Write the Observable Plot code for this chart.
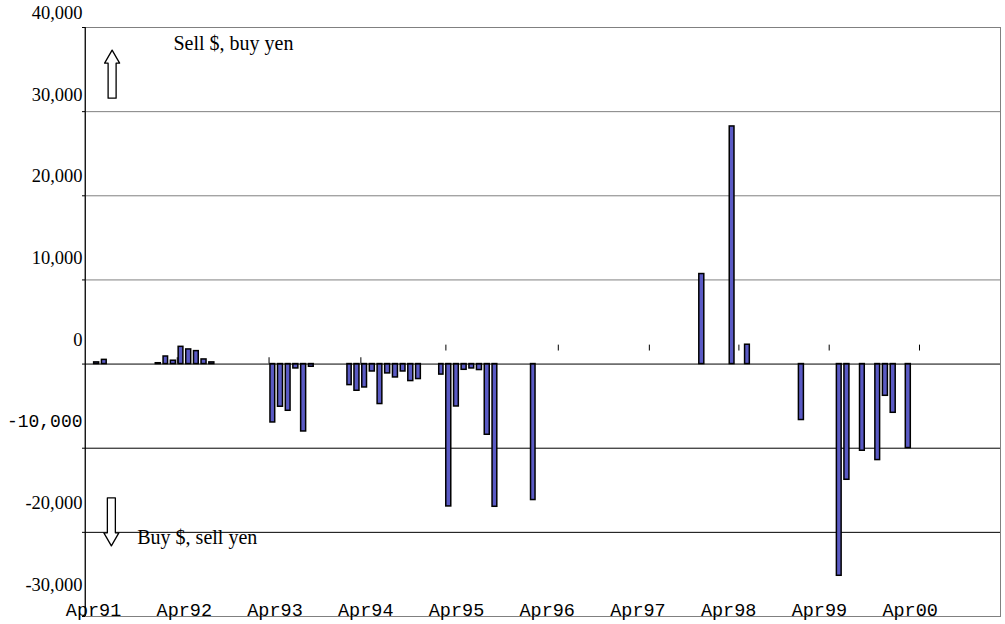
<!DOCTYPE html>
<html><head><meta charset="utf-8">
<script src="https://cdn.jsdelivr.net/npm/d3@7"></script>
<script src="https://cdn.jsdelivr.net/npm/@observablehq/plot@0.6"></script>
<style>
body{margin:0;background:#fff;}
#chart{width:1005px;height:624px;}
svg{display:block;}
</style></head><body><div id="chart"></div>
<script>
// Monthly intervention, 100 million yen (+ = sell $, buy yen; - = buy $, sell yen)
const months = [
  "1991-05","1991-06",
  "1992-01","1992-02","1992-03","1992-04","1992-05","1992-06","1992-07","1992-08",
  "1993-04","1993-05","1993-06","1993-07","1993-08","1993-09",
  "1994-02","1994-03","1994-04","1994-05","1994-06","1994-07","1994-08","1994-09","1994-10","1994-11",
  "1995-02","1995-03","1995-04","1995-05","1995-06","1995-07","1995-08","1995-09",
  "1996-02",
  "1997-12","1998-04","1998-06",
  "1999-01","1999-06","1999-07","1999-09","1999-11","1999-12","2000-01","2000-03"
];
const values = [
  200, 500,
  100, 900, 400, 2050, 1740, 1540, 550, 200,
  -6940, -5070, -5550, -520, -8010, -320,
  -2500, -3170, -2780, -880, -4750, -1110, -1590, -880, -2020, -1780,
  -1250, -16920, -5040, -680, -520, -710, -8400, -16960,
  -16160,
  10700, 28240, 2300,
  -6650, -25160, -13750, -10300, -11410, -3770, -5790, -9980
];
const yTicks = [40000, 30000, 20000, 10000, 0, -10000, -20000, -30000];
const yTickLabels = ["40,000", "30,000", "20,000", "10,000", "0", "-10,000", "-20,000", "-30,000"];
const xTickLabels = ["Apr91","Apr92","Apr93","Apr94","Apr95","Apr96","Apr97","Apr98","Apr99","Apr00"];
const gridPositive = [30000, 20000, 10000];
const gridNegative = [-10000, -20000];
const zeroTicksLow = ["1992-04-01","1993-04-01","1994-04-01"];
const zeroTicksHigh = ["1995-03-05","1996-05-25","1997-05-22","1998-05-13","1999-05-07","2000-04-30"];
const arrowDates = ["1991-07-17","1991-07-14"];
const arrowValues = [31600, -15900];
const arrowRotate = [0, 180];
const noteTexts = ["Sell $, buy yen", "Buy $, sell yen"];
const noteDates = ["1992-03-17", "1991-10-25"];
const noteValues = [37385, -21362];

const parse = d3.utcParse("%Y-%m");
const bars = months.map((m, i) => ({date: parse(m), value: values[i]}));
const start = new Date(Date.UTC(1991, 3, 1));
const end = new Date(Date.UTC(2001, 3, 1));
const monthMs = (end - start) / 120;

// tick label placement as drawn in the original (slightly compressed relative to the grid)
const yLab = yTicks.map((v, i) => ({v, label: yTickLabels[i], pos: 41034 - (40000 - v) * 0.971}));
const xLab = xTickLabels.map((t, i) => ({label: t, date: new Date(+start + (1.09 + 11.85 * i) * monthMs)}));
const arrows = arrowDates.map((d, i) => ({date: new Date(d), value: arrowValues[i], rotate: arrowRotate[i]}));
const notes = noteTexts.map((t, i) => ({text: t, date: new Date(noteDates[i]), value: noteValues[i]}));

const blockArrow = {
  draw(context, l) {
    const sw = 4, hw = 7.5, hl = 13;
    context.moveTo(-sw, 0);
    context.lineTo(-sw, -(l - hl));
    context.lineTo(-hw, -(l - hl));
    context.lineTo(0, -l);
    context.lineTo(hw, -(l - hl));
    context.lineTo(sw, -(l - hl));
    context.lineTo(sw, 0);
    context.closePath();
  }
};

const serif = "'Liberation Serif', 'Times New Roman', serif";
const mono = "'Liberation Mono', 'Courier New', monospace";

const chart = Plot.plot({
  width: 1005,
  height: 624,
  marginLeft: 85,
  marginRight: 5,
  marginTop: 27,
  marginBottom: 8,
  style: {background: "#fff", color: "#000"},
  x: {type: "utc", domain: [start, end], range: [84.7, 1003.5], axis: null},
  y: {domain: [-30000, 40000], axis: null},
  marks: [
    Plot.frame({stroke: "#808080"}),
    Plot.ruleY(gridPositive, {stroke: "#808080", strokeWidth: 1}),
    Plot.ruleY(gridNegative, {stroke: "#000", strokeWidth: 1}),
    Plot.rectY(bars, {x: "date", y: "value", interval: d3.utcMonth, insetLeft: 1.4, insetRight: 1.4,
      fill: "#5a5ac4", stroke: "#000", strokeWidth: 1.5}),
    Plot.ruleY([0], {stroke: "#000", strokeWidth: 1}),
    Plot.ruleX(zeroTicksLow.map(d => new Date(d)), {y1: 0, y2: 750, stroke: "#000"}),
    Plot.ruleX(zeroTicksHigh.map(d => new Date(d)), {y1: 1550, y2: 2250, stroke: "#000"}),
    Plot.ruleX([start], {stroke: "#000", strokeWidth: 1.2}),
    Plot.axisY({ticks: yTicks, tickSize: 3, tickFormat: () => "", stroke: "#000"}),
    Plot.text(yLab.filter(d => d.v !== -10000), {y: "pos", text: "label", frameAnchor: "left", dx: -3,
      textAnchor: "end", lineAnchor: "bottom", fontFamily: serif, fontSize: 18.5, fill: "#000"}),
    Plot.text(yLab.filter(d => d.v === -10000), {y: "pos", text: "label", frameAnchor: "left", dx: -3,
      textAnchor: "end", lineAnchor: "bottom", fontFamily: mono, fontSize: 18, fill: "#000"}),
    Plot.text(xLab, {x: "date", y: -30000, text: "label", textAnchor: "middle", lineAnchor: "bottom", dy: -1,
      fontFamily: mono, fontSize: 18.5, fill: "#000"}),
    Plot.vector(arrows, {x: "date", y: "value", rotate: "rotate", length: 48, anchor: "start",
      shape: blockArrow, fill: "#fff", stroke: "#000", strokeWidth: 1.3}),
    Plot.text(notes, {x: "date", y: "value", text: "text", textAnchor: "start", lineAnchor: "bottom",
      fontFamily: serif, fontSize: 20, fill: "#000"})
  ]
});
document.getElementById("chart").appendChild(chart);
</script>
</body></html>
